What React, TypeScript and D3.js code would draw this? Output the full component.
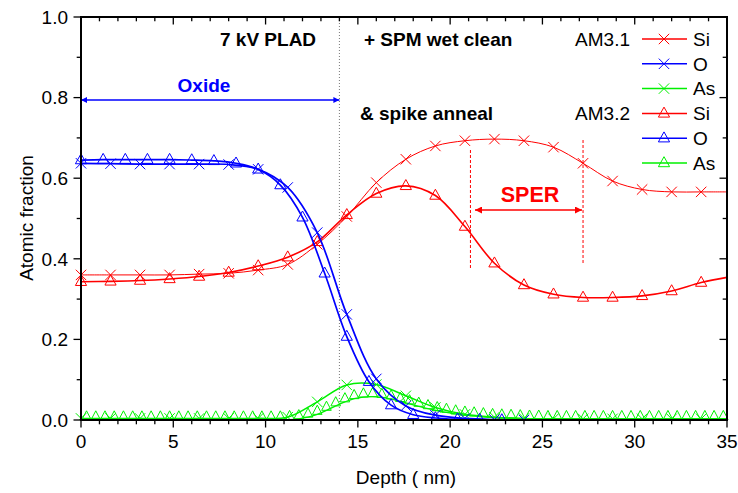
import React from "react";
import * as d3 from "d3";

// ---------- data ----------
const depthX = [0, 1.6, 3.2, 4.8, 6.4, 8.0, 9.6, 11.2, 12.8, 14.4, 16.0, 17.6, 19.2, 20.8, 22.4, 24.0, 25.6, 27.2, 28.8, 30.4, 32.0, 33.6, 35.0];
const siAM31 = [0.360, 0.360, 0.360, 0.360, 0.362, 0.364, 0.372, 0.386, 0.436, 0.505, 0.589, 0.647, 0.680, 0.693, 0.697, 0.693, 0.677, 0.637, 0.593, 0.572, 0.566, 0.566, 0.566];
const asAM31 = [0.004, 0.004, 0.004, 0.004, 0.004, 0.004, 0.004, 0.007, 0.045, 0.087, 0.088, 0.060, 0.031, 0.014, 0.007, 0.004, 0.003, 0.003, 0.003, 0.003, 0.003, 0.003, 0.003];
const siAM32 = [0.343, 0.344, 0.346, 0.350, 0.356, 0.366, 0.382, 0.404, 0.442, 0.509, 0.562, 0.581, 0.557, 0.480, 0.389, 0.335, 0.312, 0.304, 0.304, 0.308, 0.320, 0.341, 0.354];

const depthOA = [0, 1.6, 3.2, 4.8, 6.4, 8.0, 9.6, 11.2, 12.8, 14.4, 16.0, 17.6, 19.2, 20.8, 22.4, 24.0];
const oAM31 = [0.637, 0.636, 0.635, 0.635, 0.635, 0.634, 0.622, 0.577, 0.465, 0.262, 0.102, 0.035, 0.012, 0.004, 0.001, 0];

const depthOB = [0, 1.2, 2.4, 3.6, 4.8, 6.0, 7.2, 8.4, 9.6, 10.8, 12.0, 13.2, 14.4, 15.6, 16.8, 18.0, 19.2, 20.4, 21.6, 22.8];
const oAM32 = [0.645, 0.646, 0.646, 0.646, 0.646, 0.645, 0.643, 0.637, 0.622, 0.583, 0.503, 0.364, 0.207, 0.095, 0.037, 0.013, 0.005, 0.002, 0.001, 0];

const depthAsB = [
  0.3, 0.8, 1.3, 1.8, 2.3, 2.8, 3.3, 3.8, 4.3, 4.8, 5.3, 5.8, 6.3, 6.8, 7.3, 7.8, 8.3, 8.8, 9.3, 9.8,
  10.3, 10.8, 11.3, 11.8, 12.3, 12.8, 13.3, 13.8, 14.3, 14.8, 15.3, 15.8, 16.3, 16.8, 17.3, 17.8, 18.3, 18.8, 19.3, 19.8,
  20.3, 20.8, 21.3, 21.8, 22.3, 22.8, 23.3, 23.8, 24.3, 24.8, 25.3, 25.8, 26.3, 26.8, 27.3, 27.8, 28.3, 28.8, 29.3, 29.8,
  30.3, 30.8, 31.3, 31.8, 32.3, 32.8, 33.3, 33.8, 34.3, 34.8,
];
const asAM32 = [
  0, 0, 0, 0, 0, 0, 0, 0, 0, 0, 0, 0, 0, 0, 0, 0, 0, 0, 0, 0,
  0, 0, 0.001, 0.003, 0.007, 0.014, 0.024, 0.035, 0.045, 0.053, 0.057, 0.058, 0.056, 0.052, 0.046, 0.040, 0.034, 0.028, 0.023, 0.019,
  0.015, 0.012, 0.010, 0.008, 0.006, 0.005, 0.004, 0.003, 0.002, 0.002, 0.001, 0.001, 0.001, 0.001, 0.001, 0.001, 0.001, 0.001, 0.001, 0.001,
  0.001, 0.001, 0.001, 0.001, 0.001, 0.001, 0.001, 0.001, 0.001, 0.001,
];

const xTicks = [0, 5, 10, 15, 20, 25, 30, 35];
const yTicks = [0.0, 0.2, 0.4, 0.6, 0.8, 1.0];
const legendGroups = ["AM3.1", "AM3.2"];
const legendElements = ["Si", "O", "As"];

const RED = "#ff0000";
const BLUE = "#0000ff";
const GREEN = "#00f000";
const FONT = "'Liberation Sans', Arial, Helvetica, sans-serif";

const W = 738;
const H = 493;
const x = d3.scaleLinear().domain([0, 35]).range([81, 727]);
const y = d3.scaleLinear().domain([0, 1]).range([420, 17]);

const crossPath = "M-5.2,-5.2L5.2,5.2M-5.2,5.2L5.2,-5.2";
const triCenter = "M0,-6.3L5.6,3.7L-5.6,3.7Z";
const triBase = "M0,-9.2L4.8,0L-4.8,0Z";

function lineOf(xs: number[], ys: number[]) {
  const gen = d3
    .line<number>()
    .x((_, i) => x(xs[i]))
    .y((v) => y(v))
    .curve(d3.curveCatmullRom.alpha(0.5));
  return gen(ys) || "";
}

function Markers({ xs, ys, path, color, skipLast, sw = 1 }: any) {
  const n = skipLast ? xs.length - 1 : xs.length;
  return (
    <g>
      {xs.slice(0, n).map((d: number, i: number) => (
        <path key={i} d={path} transform={`translate(${x(d)},${y(ys[i])})`} fill="none" stroke={color} strokeWidth={sw} />
      ))}
    </g>
  );
}

export default function App() {
  const xMinor = d3.range(0, 36, 1);
  const yMinor = d3.range(0, 1.01, 0.1);
  const series = [
    { color: RED, mark: crossPath },
    { color: BLUE, mark: crossPath },
    { color: GREEN, mark: crossPath },
    { color: RED, mark: triCenter },
    { color: BLUE, mark: triCenter },
    { color: GREEN, mark: triCenter },
  ];
  const rowY = [39, 63.8, 88.6, 113.4, 138.2, 163];
  return (
    <svg width={W} height={H} style={{ position: "absolute", left: 0, top: 0, background: "#fff" }} fontFamily={FONT}>
      <defs>
        <clipPath id="plotclip">
          <rect x={0} y={0} width={W} height={420} />
        </clipPath>
        <marker id="arrB" viewBox="0 0 10 10" refX="10" refY="5" markerWidth="9" markerHeight="6" orient="auto-start-reverse" markerUnits="userSpaceOnUse">
          <path d="M0,0L10,5L0,10Z" fill={BLUE} />
        </marker>
        <marker id="arrR" viewBox="0 0 10 10" refX="10" refY="5" markerWidth="10" markerHeight="7" orient="auto-start-reverse" markerUnits="userSpaceOnUse">
          <path d="M0,0L10,5L0,10Z" fill={RED} />
        </marker>
      </defs>
      <rect width={W} height={H} fill="#fff" />

      {/* vertical dotted line at 14 nm */}
      <line x1={x(14)} x2={x(14)} y1={y(1)} y2={y(0)} stroke="#777" strokeWidth={1} strokeDasharray="1,2" />

      <g clipPath="url(#plotclip)">
        {/* Red Si */}
        <path d={lineOf(depthX, siAM31)} fill="none" stroke={RED} strokeWidth={1} />
        <Markers xs={depthX} ys={siAM31} path={crossPath} color={RED} skipLast />
        <path d={lineOf(depthX, siAM32)} fill="none" stroke={RED} strokeWidth={1.6} />
        <Markers xs={depthX} ys={siAM32} path={triCenter} color={RED} skipLast />

        {/* Green As */}
        <path d={lineOf(depthX, asAM31)} fill="none" stroke={GREEN} strokeWidth={1.5} />
        <Markers xs={depthX} ys={asAM31} path={crossPath} color={GREEN} skipLast />
        <path d={lineOf(depthAsB, asAM32)} fill="none" stroke={GREEN} strokeWidth={1.3} />
        <Markers xs={depthAsB} ys={asAM32} path={triBase} color={GREEN} />

        {/* Blue O */}
        <path d={lineOf(depthOA, oAM31)} fill="none" stroke={BLUE} strokeWidth={1.7} />
        <Markers xs={depthOA} ys={oAM31} path={crossPath} color={BLUE} />
        <path d={lineOf(depthOB, oAM32)} fill="none" stroke={BLUE} strokeWidth={1.7} />
        <Markers xs={depthOB} ys={oAM32} path={triCenter} color={BLUE} />
      </g>

      {/* SPER dashed lines and arrow */}
      <line x1={x(21.1)} x2={x(21.1)} y1={150} y2={270} stroke={RED} strokeWidth={1} strokeDasharray="3,2" />
      <line x1={x(27.2)} x2={x(27.2)} y1={140} y2={265} stroke={RED} strokeWidth={1} strokeDasharray="3,2" />
      <line x1={475} x2={582} y1={210} y2={210} stroke={RED} strokeWidth={1.5} markerStart="url(#arrR)" markerEnd="url(#arrR)" />
      <text x={530} y={202} textAnchor="middle" fontSize={21.5} fontWeight="bold" fill={RED}>SPER</text>

      {/* Oxide arrow */}
      <line x1={x(0)} x2={x(14)} y1={100} y2={100} stroke={BLUE} strokeWidth={1.5} markerStart="url(#arrB)" markerEnd="url(#arrB)" />
      <text x={204} y={91.5} textAnchor="middle" fontSize={19} fontWeight="bold" fill={BLUE}>Oxide</text>

      {/* annotations */}
      <text x={220} y={46} fontSize={19} fontWeight="bold" fill="#000">7 kV PLAD</text>
      <text x={364} y={46} fontSize={19} fontWeight="bold" fill="#000">+ SPM wet clean</text>
      <text x={360} y={120} fontSize={19} fontWeight="bold" fill="#000">&amp; spike anneal</text>

      {/* legend */}
      <g>
        {series.map((s, i) => (
          <g key={i} transform={`translate(0,${rowY[i]})`}>
            <line x1={642} x2={687} y1={0} y2={0} stroke={s.color} strokeWidth={1.5} />
            <path d={s.mark} transform="translate(664,0)" fill="none" stroke={s.color} strokeWidth={1} />
            <text x={693} y={0} dy="0.36em" fontSize={19} fill="#000">{legendElements[i % 3]}</text>
            {i % 3 === 0 && (
              <text x={630} y={0} dy="0.36em" fontSize={19} textAnchor="end" fill="#000">{legendGroups[i / 3]}</text>
            )}
          </g>
        ))}
      </g>

      {/* axes frame */}
      <g stroke="#000" strokeWidth={1.3}>
        {xMinor.map((t) => {
          const major = t % 5 === 0;
          const len = major ? 7.5 : 4.3;
          return (
            <g key={"x" + t}>
              <line x1={x(t)} x2={x(t)} y1={420} y2={420 + len} />
              <line x1={x(t)} x2={x(t)} y1={17} y2={17 + len} />
            </g>
          );
        })}
        {yMinor.map((t, i) => {
          const major = i % 2 === 0;
          const len = major ? 7.5 : 4.3;
          return (
            <g key={"y" + i}>
              <line x1={81} x2={81 - len} y1={y(t)} y2={y(t)} />
              <line x1={727} x2={727 - len} y1={y(t)} y2={y(t)} />
            </g>
          );
        })}
      </g>
      <rect x={81} y={17} width={646} height={403} fill="none" stroke="#000" strokeWidth={2} />

      {/* tick labels */}
      {xTicks.map((t) => (
        <text key={"xl" + t} x={x(t)} y={448} textAnchor="middle" fontSize={19} fill="#000">{t}</text>
      ))}
      {yTicks.map((t) => (
        <text key={"yl" + t} x={68} y={y(t)} dy="0.36em" textAnchor="end" fontSize={19} fill="#000">{t.toFixed(1)}</text>
      ))}

      {/* axis titles */}
      <text x={406} y={484} textAnchor="middle" fontSize={19} fill="#000">Depth ( nm)</text>
      <text transform={`translate(33,218) rotate(-90)`} textAnchor="middle" fontSize={19} fill="#000">Atomic fraction</text>
    </svg>
  );
}
